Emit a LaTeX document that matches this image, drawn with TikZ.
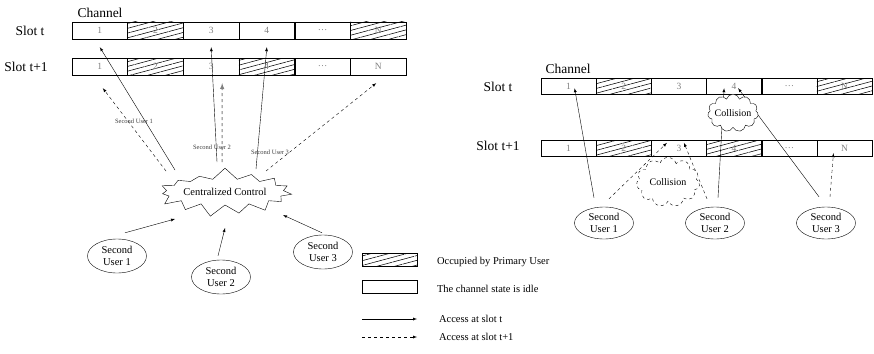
\documentclass[tikz,border=0pt]{standalone}
\usepackage{fontspec}
\setmainfont{Liberation Serif}
\usetikzlibrary{arrows.meta, shapes.symbols, shapes.geometric, patterns.meta}

\begin{document}
\begin{tikzpicture}[>=latex, x=1pt, y=-1pt, font=\fontsize{10.5}{12}\selectfont,
    idle/.style={draw, minimum height=17pt, inner sep=0pt, font=\fontsize{9.5}{10}\selectfont, text=gray},
    busy/.style={idle, pattern={Lines[angle=15, distance=4.6pt, line width=0.55pt]}},
    user/.style={draw, ellipse, minimum width=59pt, minimum height=34pt, inner sep=0pt, align=center},
    big/.style={font=\fontsize{13.5}{15}\selectfont},
    tiny/.style={font=\fontsize{6.5}{7}\selectfont, text=black!75},
    coll/.style={draw, cloud, cloud puffs=11, aspect=1.6, fill=white, inner sep=-2pt, font=\fontsize{10}{11}\selectfont}]

\useasboundingbox (0,0) rectangle (874,353);

% left: centralized access
\node[big] (chl) at (100,13) {Channel};
\node[big] (sl1) at (30,31) {Slot t};
\node[big] (sl2) at (26,67) {Slot t+1};
\foreach \lab/\sa/\sb [count=\i] in {1/idle/idle, 2/busy/busy, 3/idle/idle, 4/idle/busy, \dots/idle/idle, N/busy/idle}{
  \node[\sa, minimum width=55.7pt] (lt\i) at ({72+(\i-0.5)*55.67},30.5) {\lab};
  \node[\sb, minimum width=55.7pt] (lb\i) at ({72+(\i-0.5)*55.67},66.5) {\lab};
}

\node[draw, starburst, starburst points=15, starburst point height=12pt, random starburst=7,
  minimum width=118pt, minimum height=50pt, inner sep=0pt] (cc) at (225,192) {Centralized Control};

\node[user] (u1) at (117,256) {Second\\User 1};
\node[user] (u2) at (221,277) {Second\\User 2};
\node[user] (u3) at (323,252) {Second\\User 3};

\draw[->] ([shift={(-50,-22)}]cc.center) -- ([yshift=-8pt]lt1.south);
\draw[->, dashed] ([shift={(-59,-21)}]cc.center) -- ([shift={(3,13)}]lb1.south);
\draw[->] ([shift={(-8,-30)}]cc.center) -- ([yshift=-8pt]lt3.south);
\draw[->, dashed, gray, line width=1pt] ([shift={(-3,-30)}]cc.center) -- ([shift={(11,8)}]lb3.south);
\draw[->] ([shift={(31,-23)}]cc.center) -- ([yshift=-8pt]lt4.south);
\draw[->, dashed] ([shift={(41,-21)}]cc.center) -- ([shift={(-2,8)}]lb6.south);
\node[tiny] (t1) at (134,121) {Second User 1};
\node[tiny] (t2) at (212,147) {Second User 2};
\node[tiny] (t3) at (270,152) {Second User 3};

\draw[->] ([shift={(8,-6)}]u1.north) -- ([shift={(-50,27)}]cc.center);
\draw[->] ([shift={(-3,-4)}]u2.north) -- ([shift={(0,36)}]cc.center);
\draw[->] ([shift={(-1,-2)}]u3.north) -- ([shift={(58,23)}]cc.center);

% legend
\node[busy, minimum width=55pt, minimum height=13pt] (kb) at (389.5,259.5) {};
\node[idle, minimum width=55pt, minimum height=13pt] (ki) at (389.5,286.5) {};
\node[anchor=west] (kbt) at (433.5,262) {Occupied by Primary User};
\node[anchor=west] (kit) at (433.5,289) {The channel state is idle};
\coordinate (ka1) at (362,319);
\coordinate (ka2) at (417,319);
\draw[->] (ka1) -- (ka2);
\node[anchor=west] (kat) at (435.5,319) {Access at slot t};
\coordinate (kd1) at (362,337);
\coordinate (kd2) at (417,337);
\draw[->, dashed] (kd1) -- (kd2);
\node[anchor=west] (kdt) at (435.5,337) {Access at slot t+1};

% right: distributed access
\node[big] (chr) at (568,69) {Channel};
\node[big] (sr1) at (498,87) {Slot t};
\node[big] (sr2) at (498,146) {Slot t+1};
\foreach \lab/\sa/\sb [count=\i] in {1/idle/idle, 2/busy/busy, 3/idle/idle, 4/idle/busy, \dots/idle/idle, N/busy/idle}{
  \node[\sa, minimum width=55.2pt, minimum height=16pt] (rt\i) at ({541+(\i-0.5)*55.17},86) {\lab};
  \node[\sb, minimum width=55.2pt, minimum height=16pt] (rb\i) at ({541+(\i-0.5)*55.17},148) {\lab};
}

\node[user, minimum height=32pt] (ru1) at (604,223) {Second\\User 1};
\node[user, minimum height=32pt] (ru2) at (715,223) {Second\\User 2};
\node[user, minimum height=32pt] (ru3) at (826,223) {Second\\User 3};

\draw[->] ([shift={(-10,-9)}]ru1.north) -- ([shift={(6,-6)}]rt1.south);
\draw[->, dashed] ([shift={(5,-8)}]ru1.north) -- ([shift={(-12,3)}]rb3.north);
\draw[->, dashed] ([shift={(-8,-8)}]ru2.north) -- ([shift={(5,3)}]rb3.north);
\draw[->] ([shift={(3,-9)}]ru2.north) -- ([shift={(-10,-6)}]rt4.south);
\draw[->] ([shift={(-7,-10)}]ru3.north) -- ([shift={(4,-6)}]rt4.south);
\draw[->, dashed] ([shift={(4,-10)}]ru3.north) -- ([shift={(-11,-3)}]rb6.south);

\node[coll] (c1) at (733,113) {Collision};
\node[coll, dashed, aspect=1.5, inner xsep=2pt, inner ysep=3pt] (c2) at (668,182) {Collision};

\end{tikzpicture}
\end{document}
